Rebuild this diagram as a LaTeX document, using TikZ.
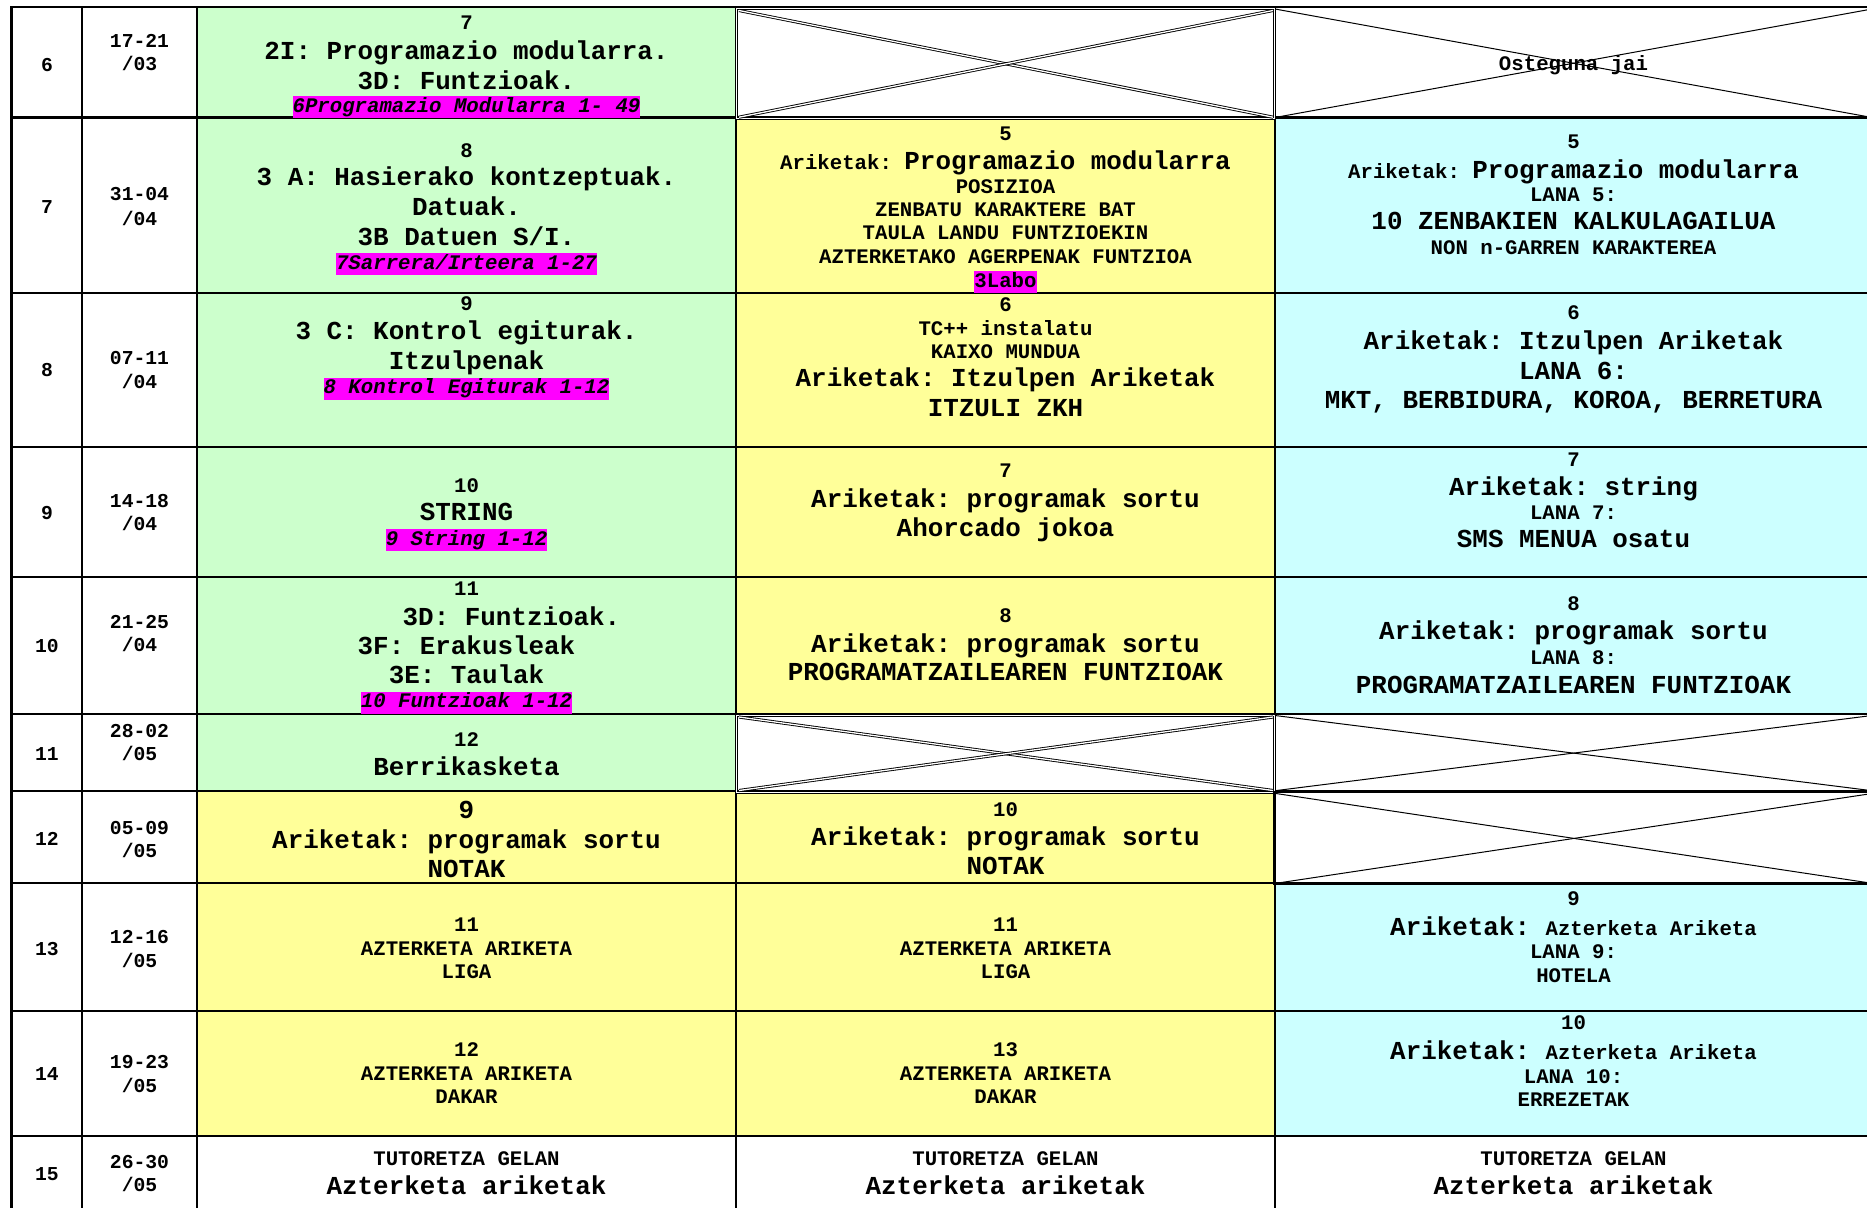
\documentclass[tikz,border=0pt]{standalone}
\usepackage{fontspec}
\newfontfamily\cour{Liberation Mono}
\frenchspacing
\definecolor{cellgreen}{HTML}{CCFFCC}
\definecolor{cellyellow}{HTML}{FFFF99}
\definecolor{cellcyan}{HTML}{CCFFFF}
\definecolor{hilite}{HTML}{FF00FF}
\newcommand\bigsz{\fontsize{25.9}{30}\selectfont}
\newcommand\smsz{\fontsize{20.7}{24}\selectfont}
\newcommand\datesz{\fontsize{19.7}{24}\selectfont}
\tikzset{
  rowrule/.style={line width=2.1pt},
  outerrule/.style={line width=2.3pt},
  colrule/.style={line width=1.5pt},
  thinrule/.style={line width=1.1pt},
  crossline/.style={line width=1pt},
  dblline/.style={double, double distance=1.3pt, line width=0.9pt},
  txtbig/.style={font=\cour\bfseries\bigsz, anchor=mid, inner sep=0pt, yshift=-7pt},
  txtsmall/.style={font=\cour\bfseries\smsz, anchor=mid, inner sep=0pt, yshift=-5pt},
  txtdate/.style={font=\cour\bfseries\datesz, anchor=mid, inner sep=0pt, yshift=-5.5pt},
  hilight/.style={font=\cour\bfseries\itshape\smsz, anchor=mid, inner sep=0pt,
    fill=hilite, text height=16pt, text depth=6pt, yshift=-5pt},
  hilightup/.style={hilight, font=\cour\bfseries\smsz}
}
\begin{document}
\begin{tikzpicture}[x=1pt, y=-1pt]
\useasboundingbox (0,0) rectangle (1867,1207);
\clip (0,0) rectangle (1867,1207);
\fill[white] (0,0) rectangle (1867,1207);

% cell backgrounds
\fill[cellgreen]  (197,7.3) rectangle (736,790.7);
\fill[cellyellow] (736,117.5) rectangle (1275,714);
\fill[cellcyan]   (1275,117.5) rectangle (1880,714);
\fill[cellyellow] (197,790.7) rectangle (1275,1136);
\fill[cellcyan]   (1275,883.3) rectangle (1880,1136);

% horizontal rules
\foreach \yy in {7.3,117.5,293,446.7,577.3,714,790.7,883.3,1011,1136}
  \draw[rowrule] (10.4,\yy) -- (1880,\yy);

% vertical rules
\draw[outerrule] (11.5,6.3) -- (11.5,1240);
\draw[colrule] (82,7.3) -- (82,1240);
\draw[colrule] (197,7.3) -- (197,1240);
\draw[thinrule] (736,7.3) -- (736,1240);
\draw[thinrule] (1275,7.3) -- (1275,1240);

% crossed-out cells: week 6
\draw[dblline] (736.8,8.8) rectangle (1274.4,118.8);
\draw[dblline] (739,10.5) -- (1273,117.2);
\draw[dblline] (739,117.2) -- (1273,10.5);
\draw[crossline] (1275,9) -- (1872,117.5);
\draw[crossline] (1275,117.5) -- (1872,9);

% crossed-out cells: week 11
\draw[dblline] (736.8,715.3) rectangle (1274.4,792.2);
\draw[dblline] (739,717) -- (1273,790.5);
\draw[dblline] (739,790.5) -- (1273,717);
\draw[crossline] (1275,715.5) -- (1872,790.7);
\draw[crossline] (1275,790.7) -- (1872,715.5);

% crossed-out cell: week 12
\draw[line width=1pt] (1275,792.6) -- (1880,792.6);
\draw[line width=1pt] (1275,884.6) -- (1880,884.6);
\draw[line width=2.6pt] (1274.6,791) -- (1274.6,885);
\draw[crossline] (1276,793.5) -- (1872,883.3);
\draw[crossline] (1276,883.3) -- (1872,793.5);

% week numbers
\node[txtdate] (w6)  at (47,64)     {6};
\node[txtdate] (w7)  at (47,206)    {7};
\node[txtdate] (w8)  at (47,369)    {8};
\node[txtdate] (w9)  at (47,511.7)  {9};
\node[txtdate] (w10) at (47,645)    {10};
\node[txtdate] (w11) at (47,753.3)  {11};
\node[txtdate] (w12) at (47,837.7)  {12};
\node[txtdate] (w13) at (47,947.7)  {13};
\node[txtdate] (w14) at (47,1072.7) {14};
\node[txtdate] (w15) at (47,1173.3) {15};

% dates
\node[txtdate] (d6a)  at (139.5,40)     {17-21};
\node[txtdate] (d6b)  at (139.5,63.3)   {/03};
\node[txtdate] (d7a)  at (139.5,193.3)  {31-04};
\node[txtdate] (d7b)  at (139.5,218.3)  {/04};
\node[txtdate] (d8a)  at (139.5,356.7)  {07-11};
\node[txtdate] (d8b)  at (139.5,380.7)  {/04};
\node[txtdate] (d9a)  at (139.5,500)    {14-18};
\node[txtdate] (d9b)  at (139.5,522.7)  {/04};
\node[txtdate] (d10a) at (139.5,621)    {21-25};
\node[txtdate] (d10b) at (139.5,644.3)  {/04};
\node[txtdate] (d11a) at (139.5,730)    {28-02};
\node[txtdate] (d11b) at (139.5,753.3)  {/05};
\node[txtdate] (d12a) at (139.5,826.7)  {05-09};
\node[txtdate] (d12b) at (139.5,850)    {/05};
\node[txtdate] (d13a) at (139.5,936)    {12-16};
\node[txtdate] (d13b) at (139.5,960)    {/05};
\node[txtdate] (d14a) at (139.5,1061)   {19-23};
\node[txtdate] (d14b) at (139.5,1085)   {/05};
\node[txtdate] (d15a) at (139.5,1160.7) {26-30};
\node[txtdate] (d15b) at (139.5,1184)   {/05};

% theory column
\node[txtsmall] (t6a) at (466.5,22.6) {7};
\node[txtbig]   (t6b) at (466.5,50)   {2I: Programazio modularra.};
\node[txtbig]   (t6c) at (466.5,80)   {3D: Funtzioak.};
\node[hilight]  (t6d) at (466.5,105.3) {6Programazio Modularra 1- 49};

\node[txtsmall] (t7a) at (466.5,150)   {8};
\node[txtbig]   (t7b) at (466.5,176.7) {3 A: Hasierako kontzeptuak.};
\node[txtbig]   (t7c) at (466.5,206.7) {Datuak.};
\node[txtbig]   (t7d) at (466.5,236)   {3B Datuen S/I.};
\node[hilight]  (t7e) at (466.5,262.3) {7Sarrera/Irteera 1-27};

\node[txtsmall] (t8a) at (466.5,303.3) {9};
\node[txtbig]   (t8b) at (466.5,330.7) {3 C: Kontrol egiturak.};
\node[txtbig]   (t8c) at (466.5,360.7) {Itzulpenak};
\node[hilight]  (t8d) at (466.5,386.7) {8 Kontrol Egiturak 1-12};

\node[txtsmall] (t9a) at (466.5,485)   {10};
\node[txtbig]   (t9b) at (466.5,511.7) {STRING};
\node[hilight]  (t9c) at (466.5,538.3) {9 String 1-12};

\node[txtsmall] (t10a) at (466.5,588.3) {11};
\node[txtbig]   (t10b) at (511.5,616.7) {3D: Funtzioak.};
\node[txtbig]   (t10c) at (466.5,645.3) {3F: Erakusleak};
\node[txtbig]   (t10d) at (466.5,674.3) {3E: Taulak};
\node[hilight]  (t10e) at (466.5,700.7) {10 Funtzioak 1-12};

\node[txtsmall] (t11a) at (466.5,739.3) {12};
\node[txtbig]   (t11b) at (466.5,766)   {Berrikasketa};

\node[txtbig]   (t12a) at (466.5,809.3) {9};
\node[txtbig]   (t12b) at (466.5,839.3) {Ariketak: programak sortu};
\node[txtbig]   (t12c) at (466.5,868)   {NOTAK};

\node[txtsmall] (t13a) at (466.5,924)   {11};
\node[txtsmall] (t13b) at (466.5,948.3) {AZTERKETA ARIKETA};
\node[txtsmall] (t13c) at (466.5,971.7) {LIGA};

\node[txtsmall] (t14a) at (466.5,1049)   {12};
\node[txtsmall] (t14b) at (466.5,1073.3) {AZTERKETA ARIKETA};
\node[txtsmall] (t14c) at (466.5,1096.7) {DAKAR};

\node[txtsmall] (t15a) at (466.5,1158.3) {TUTORETZA GELAN};
\node[txtbig]   (t15b) at (466.5,1185)   {Azterketa ariketak};

% lab column
\node[txtsmall] (l7a) at (1005.5,133.3) {5};
\node[txtbig]   (l7b) at (1005.5,160)   {{\smsz Ariketak: }Programazio modularra};
\node[txtsmall] (l7c) at (1005.5,186)   {POSIZIOA};
\node[txtsmall] (l7d) at (1005.5,209.3) {ZENBATU KARAKTERE BAT};
\node[txtsmall] (l7e) at (1005.5,232.7) {TAULA LANDU FUNTZIOEKIN};
\node[txtsmall] (l7f) at (1005.5,256)   {AZTERKETAKO AGERPENAK FUNTZIOA};
\node[hilightup] (l7g) at (1005.5,280)  {3Labo};

\node[txtsmall] (l8a) at (1005.5,304)   {6};
\node[txtsmall] (l8b) at (1005.5,328.3) {TC++ instalatu};
\node[txtsmall] (l8c) at (1005.5,351)   {KAIXO MUNDUA};
\node[txtbig]   (l8d) at (1005.5,377.7) {Ariketak: Itzulpen Ariketak};
\node[txtbig]   (l8e) at (1005.5,407.7) {ITZULI ZKH};

\node[txtsmall] (l9a) at (1005.5,470)   {7};
\node[txtbig]   (l9b) at (1005.5,498.3) {Ariketak: programak sortu};
\node[txtbig]   (l9c) at (1005.5,527.3) {Ahorcado jokoa};

\node[txtsmall] (l10a) at (1005.5,615.7) {8};
\node[txtbig]   (l10b) at (1005.5,643.3) {Ariketak: programak sortu};
\node[txtbig]   (l10c) at (1005.5,671.7) {PROGRAMATZAILEAREN FUNTZIOAK};

\node[txtsmall] (l12a) at (1005.5,809.3) {10};
\node[txtbig]   (l12b) at (1005.5,836.7) {Ariketak: programak sortu};
\node[txtbig]   (l12c) at (1005.5,865)   {NOTAK};

\node[txtsmall] (l13a) at (1005.5,924)   {11};
\node[txtsmall] (l13b) at (1005.5,948.3) {AZTERKETA ARIKETA};
\node[txtsmall] (l13c) at (1005.5,971.7) {LIGA};

\node[txtsmall] (l14a) at (1005.5,1049)   {13};
\node[txtsmall] (l14b) at (1005.5,1073.3) {AZTERKETA ARIKETA};
\node[txtsmall] (l14c) at (1005.5,1096.7) {DAKAR};

\node[txtsmall] (l15a) at (1005.5,1158.3) {TUTORETZA GELAN};
\node[txtbig]   (l15b) at (1005.5,1185)   {Azterketa ariketak};

% assignment column
\node[txtsmall] (a6a) at (1573.5,63.3) {Osteguna jai};

\node[txtsmall] (a7a) at (1573.5,141.7) {5};
\node[txtbig]   (a7b) at (1573.5,169.3) {{\smsz Ariketak: }Programazio modularra};
\node[txtsmall] (a7c) at (1573.5,194)   {LANA 5:};
\node[txtbig]   (a7d) at (1573.5,220.7) {10 ZENBAKIEN KALKULAGAILUA};
\node[txtsmall] (a7e) at (1573.5,247.3) {NON n-GARREN KARAKTEREA};

\node[txtsmall] (a8a) at (1573.5,312.7) {6};
\node[txtbig]   (a8b) at (1573.5,340)   {Ariketak: Itzulpen Ariketak};
\node[txtbig]   (a8c) at (1573.5,370)   {LANA 6:};
\node[txtbig]   (a8d) at (1573.5,399.3) {MKT, BERBIDURA, KOROA, BERRETURA};

\node[txtsmall] (a9a) at (1573.5,459.3) {7};
\node[txtbig]   (a9b) at (1573.5,486)   {Ariketak: string};
\node[txtsmall] (a9c) at (1573.5,512.3) {LANA 7:};
\node[txtbig]   (a9d) at (1573.5,538.3) {SMS MENUA osatu};

\node[txtsmall] (a10a) at (1573.5,603.3) {8};
\node[txtbig]   (a10b) at (1573.5,630.7) {Ariketak: programak sortu};
\node[txtsmall] (a10c) at (1573.5,657.7) {LANA 8:};
\node[txtbig]   (a10d) at (1573.5,684)   {PROGRAMATZAILEAREN FUNTZIOAK};

\node[txtsmall] (a13a) at (1573.5,898.3) {9};
\node[txtbig]   (a13b) at (1573.5,926)   {Ariketak: {\smsz Azterketa Ariketa}};
\node[txtsmall] (a13c) at (1573.5,951.7) {LANA 9:};
\node[txtsmall] (a13d) at (1573.5,975)   {HOTELA};

\node[txtsmall] (a14a) at (1573.5,1022.7) {10};
\node[txtbig]   (a14b) at (1573.5,1050.7) {Ariketak: {\smsz Azterketa Ariketa}};
\node[txtsmall] (a14c) at (1573.5,1076)   {LANA 10:};
\node[txtsmall] (a14d) at (1573.5,1099.3) {ERREZETAK};

\node[txtsmall] (a15a) at (1573.5,1158.3) {TUTORETZA GELAN};
\node[txtbig]   (a15b) at (1573.5,1185)   {Azterketa ariketak};
\end{tikzpicture}
\end{document}
